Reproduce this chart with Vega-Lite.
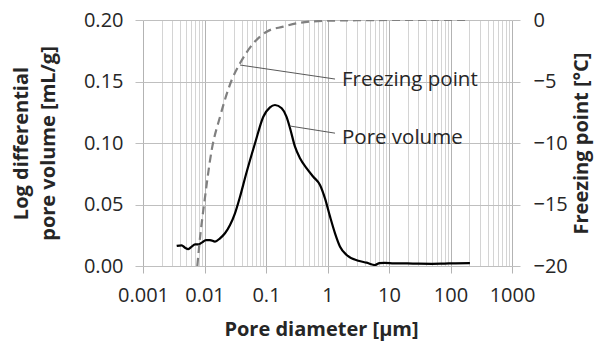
{
  "$schema": "https://vega.github.io/schema/vega-lite/v6.json",
  "autosize": {"type": "none"},
  "width": 369,
  "height": 246,
  "padding": {"left": 143, "top": 20, "right": 86, "bottom": 76},
  "background": "white",
  "config": {
    "view": {"stroke": null},
    "font": "Open Sans",
    "axis": {"labelFont": "Open Sans", "titleFont": "Open Sans", "labelColor": "#262626", "titleColor": "#262626", "labelFontSize": 20, "titleFontSize": 20, "titleFontWeight": "bold", "domain": false}
  },
  "datasets": {
    "pore": [
      {"d": 0.00353, "v": 0.0163}, {"d": 0.00426, "v": 0.0168}, {"d": 0.00482, "v": 0.0149}, {"d": 0.00546, "v": 0.0138},
      {"d": 0.00618, "v": 0.0157}, {"d": 0.00701, "v": 0.0176}, {"d": 0.00794, "v": 0.0176}, {"d": 0.009, "v": 0.019},
      {"d": 0.01057, "v": 0.0211}, {"d": 0.01228, "v": 0.0211}, {"d": 0.01482, "v": 0.0198}, {"d": 0.01786, "v": 0.0225},
      {"d": 0.02153, "v": 0.0266}, {"d": 0.026, "v": 0.0333}, {"d": 0.0313, "v": 0.0428}, {"d": 0.0378, "v": 0.0563},
      {"d": 0.047, "v": 0.074}, {"d": 0.0665, "v": 0.1}, {"d": 0.0904, "v": 0.1214},
      {"d": 0.116, "v": 0.129}, {"d": 0.14, "v": 0.1309}, {"d": 0.18, "v": 0.1282}, {"d": 0.215, "v": 0.1214},
      {"d": 0.246, "v": 0.112}, {"d": 0.296, "v": 0.097}, {"d": 0.357, "v": 0.0876}, {"d": 0.459, "v": 0.0794},
      {"d": 0.587, "v": 0.0726}, {"d": 0.755, "v": 0.0659}, {"d": 0.91, "v": 0.055}, {"d": 1.1, "v": 0.0401},
      {"d": 1.325, "v": 0.0266}, {"d": 1.6, "v": 0.0157}, {"d": 2.05, "v": 0.0089}, {"d": 3.17, "v": 0.0043},
      {"d": 4.33, "v": 0.0027}, {"d": 5.92, "v": 0.0008}, {"d": 7.0, "v": 0.0024}, {"d": 8.5, "v": 0.0026},
      {"d": 12, "v": 0.0022}, {"d": 20, "v": 0.0021}, {"d": 30, "v": 0.0019}, {"d": 50, "v": 0.0018},
      {"d": 80, "v": 0.002}, {"d": 120, "v": 0.0022}, {"d": 207, "v": 0.0023}
    ],
    "freeze": [
      {"d": 0.00764, "fp": -20}, {"d": 0.0085, "fp": -17.6}, {"d": 0.0099, "fp": -14.9}, {"d": 0.0131, "fp": -10.57},
      {"d": 0.0179, "fp": -7.86}, {"d": 0.0277, "fp": -4.88}, {"d": 0.0378, "fp": -3.52}, {"d": 0.0622, "fp": -1.9},
      {"d": 0.1026, "fp": -0.95}, {"d": 0.191, "fp": -0.54}, {"d": 0.357, "fp": -0.22}, {"d": 1, "fp": -0.06},
      {"d": 3, "fp": -0.02}, {"d": 10, "fp": 0}, {"d": 207, "fp": 0}
    ],
    "leaders": [
      {"d": 0.0378, "v": 0.1634, "d2": 1.325, "v2": 0.152},
      {"d": 0.246, "v": 0.1138, "d2": 1.325, "v2": 0.108}
    ],
    "labels": [
      {"d": 1.72, "v": 0.1512, "t": "Freezing point"},
      {"d": 1.72, "v": 0.104, "t": "Pore volume"}
    ]
  },
  "resolve": {"scale": {"y": "independent"}},
  "layer": [
    {
      "layer": [
        {
          "data": {"name": "pore"},
          "mark": {"type": "line", "color": "#000000", "strokeWidth": 2.2, "interpolate": "monotone", "clip": true},
          "encoding": {
            "x": {
              "field": "d", "type": "quantitative",
              "scale": {"type": "log", "domain": [0.001, 1000], "nice": false},
              "axis": {
                "title": "Pore diameter [μm]",
                "values": [0.001,0.002,0.003,0.004,0.005,0.006,0.007,0.008,0.009,0.01,0.02,0.03,0.04,0.05,0.06,0.07,0.08,0.09,0.1,0.2,0.3,0.4,0.5,0.6,0.7,0.8,0.9,1,2,3,4,5,6,7,8,9,10,20,30,40,50,60,70,80,90,100,200,300,400,500,600,700,800,900,1000],
                "labelExpr": "abs(log(datum.value)/LN10 - round(log(datum.value)/LN10)) < 1e-6 ? format(datum.value, '~g') : ''",
                "grid": true,
                "gridColor": {"condition": {"test": "abs(log(datum.value)/LN10 - round(log(datum.value)/LN10)) < 1e-6", "value": "#b3b3b3"}, "value": "#d4d4d4"},
                "gridWidth": 1,
                "tickSize": 7,
                "tickColor": "#b3b3b3",
                "tickOpacity": {"condition": {"test": "abs(log(datum.value)/LN10 - round(log(datum.value)/LN10)) < 1e-6", "value": 1}, "value": 0},
                "labelPadding": 12,
                "labelFlush": false,
                "labelOverlap": false,
                "titleX": 178,
                "titleY": 69,
                "titleBaseline": "alphabetic",
                "titleAnchor": "middle",
                "titleAlign": "center"
              }
            },
            "y": {
              "field": "v", "type": "quantitative",
              "scale": {"domain": [0, 0.2], "nice": false, "zero": false},
              "axis": {
                "title": ["Log differential", "pore volume [mL/g]"],
                "values": [0, 0.05, 0.1, 0.15, 0.2],
                "format": ".2f",
                "grid": true,
                "gridColor": "#bfbfbf",
                "tickSize": 8,
                "tickColor": "#bfbfbf",
                "labelPadding": 12,
                "labelFlush": false,
                "titleAngle": -90,
                "titleBaseline": "top",
                "titleAlign": "center",
                "titleX": -132,
                "titleY": 123,
                "titleLineHeight": 27
              }
            }
          }
        },
        {
          "data": {"name": "leaders"},
          "mark": {"type": "rule", "color": "#595959", "strokeWidth": 1},
          "encoding": {
            "x": {"field": "d", "type": "quantitative", "title": "Pore diameter [μm]"},
            "x2": {"field": "d2"},
            "y": {"field": "v", "type": "quantitative"},
            "y2": {"field": "v2"}
          }
        },
        {
          "data": {"name": "labels"},
          "mark": {"type": "text", "align": "left", "baseline": "middle", "font": "Open Sans", "fontSize": 20.5, "color": "#262626"},
          "encoding": {
            "x": {"field": "d", "type": "quantitative", "title": "Pore diameter [μm]"},
            "y": {"field": "v", "type": "quantitative"},
            "text": {"field": "t"}
          }
        }
      ]
    },
    {
      "data": {"name": "freeze"},
      "mark": {"type": "line", "color": "#808080", "strokeWidth": 2.2, "strokeDash": [8, 5], "interpolate": "monotone", "clip": true},
      "encoding": {
        "x": {"field": "d", "type": "quantitative", "title": "Pore diameter [μm]"},
        "y": {
          "field": "fp", "type": "quantitative",
          "scale": {"domain": [-20, 0], "nice": false, "zero": false},
          "axis": {
            "orient": "right",
            "title": "Freezing point [°C]",
            "values": [-20, -15, -10, -5, 0],
            "grid": false,
            "tickSize": 8,
            "tickColor": "#bfbfbf",
            "labelPadding": 13,
            "labelFlush": false,
            "titleAngle": -90,
            "titleBaseline": "top",
            "titleAlign": "center",
            "titleX": 59,
            "titleY": 123
          }
        }
      }
    }
  ]
}
